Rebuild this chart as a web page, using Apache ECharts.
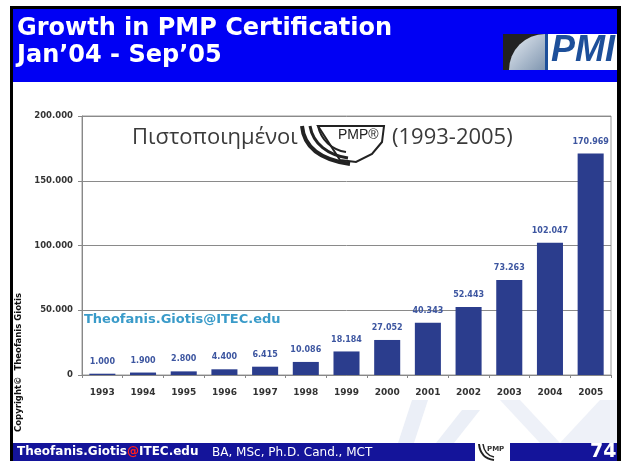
<!DOCTYPE html>
<html>
<head>
<meta charset="utf-8">
<script src="https://cdn.jsdelivr.net/npm/echarts@6/dist/echarts.min.js"></script>
<style>
html,body{margin:0;padding:0;background:#fff;}
#main{width:621px;height:461px;}
</style>
</head>
<body>
<div id="main"></div>
<script>
// data
const years = ['1993','1994','1995','1996','1997','1998','1999','2000','2001','2002','2003','2004','2005'];
const holders = [1000,1900,2800,4400,6415,10086,18184,27052,40343,52443,73263,102047,170969];
const yTicks = [0,50000,100000,150000,200000];

const blue = '#0000f4';
const navy = '#14149a';
const barColor = '#2b3d8d';

function dots(v){
  return String(v).replace(/\B(?=(\d{3})+(?!\d))/g,'.');
}

const chart = echarts.init(document.getElementById('main'));
chart.setOption({
  backgroundColor:'#fff',
  animation:false,
  grid:{left:82,right:10,top:116,bottom:86,show:true,borderColor:'#9a9a9a',borderWidth:1},
  xAxis:{
    type:'category',
    data:years,
    axisLine:{lineStyle:{color:'#888'}},
    axisTick:{show:true,length:3,lineStyle:{color:'#888'}},
    axisLabel:{color:'#333',fontWeight:'bold',fontSize:9,margin:13,fontFamily:'DejaVu Sans'}
  },
  yAxis:{
    type:'value',
    min:yTicks[0],
    max:yTicks[yTicks.length-1],
    interval:50000,
    axisLine:{show:true,lineStyle:{color:'#888'}},
    axisTick:{show:true,length:4,lineStyle:{color:'#888'}},
    splitLine:{lineStyle:{color:'#8a8a8a'}},
    axisLabel:{color:'#333',fontWeight:'bold',fontSize:8.5,margin:9,fontFamily:'DejaVu Sans',formatter:dots}
  },
  series:[{
    type:'bar',
    data:holders,
    barWidth:'64%',
    itemStyle:{color:barColor},
    label:{show:true,position:'top',distance:8,color:'#3d56a0',fontWeight:'bold',fontSize:8,fontFamily:'DejaVu Sans',formatter:p=>dots(p.value)}
  }],
  graphic:[
    // frame
    {type:'rect',shape:{x:10,y:6,width:611,height:3},style:{fill:'#000'},silent:true},
    {type:'rect',shape:{x:10,y:6,width:3,height:455},style:{fill:'#000'},silent:true},
    {type:'rect',shape:{x:617,y:6,width:4,height:455},style:{fill:'#000'},silent:true},
    // header
    {type:'rect',shape:{x:13,y:9,width:604,height:73},style:{fill:blue}},
    {type:'text',x:17,y:17,style:{text:'Growth in PMP Certification',fill:'#fff',font:'bold 24px "DejaVu Sans"',shadowColor:'rgba(0,0,0,0.55)',shadowOffsetX:1,shadowOffsetY:1,shadowBlur:2}},
    {type:'text',x:17,y:44,style:{text:'Jan\u201904 - Sep\u201905',fill:'#fff',font:'bold 24px "DejaVu Sans"',shadowColor:'rgba(0,0,0,0.55)',shadowOffsetX:1,shadowOffsetY:1,shadowBlur:2}},
    // PMI logo
    {type:'rect',shape:{x:503,y:34,width:114,height:36},style:{fill:'#fff'}},
    {type:'rect',shape:{x:503,y:34,width:42,height:36},style:{fill:'#222'}},
    {type:'sector',shape:{cx:545,cy:70,r:36,r0:0,startAngle:Math.PI,endAngle:Math.PI*1.5},style:{fill:new echarts.graphic.LinearGradient(0,0,1,1,[{offset:0,color:'#e8eef4'},{offset:1,color:'#8096b0'}])}},
    {type:'rect',shape:{x:545,y:34,width:3,height:36},style:{fill:'#1d4f9a'}},
    {type:'text',x:551,y:33,style:{text:'PMI',fill:'#1d4f9a',font:'italic bold 36px "Liberation Sans"'}},
    // chart caption
    {type:'text',x:132,y:127,style:{text:'\u03a0\u03b9\u03c3\u03c4\u03bf\u03c0\u03bf\u03b9\u03b7\u03bc\u03ad\u03bd\u03bf\u03b9',fill:'#3a3a3a',font:'22px "Open Sans"'}},
    {type:'polygon',shape:{points:[[318,126],[384,126],[382,142],[372,154],[356,162],[340,160]]},style:{fill:'#fff',stroke:'#222',lineWidth:2}},
    {type:'bezierCurve',shape:{x1:302,y1:126,cpx1:304,cpy1:148,cpx2:322,cpy2:160,x2:350,y2:164},style:{fill:'none',stroke:'#222',lineWidth:4}},
    {type:'bezierCurve',shape:{x1:310,y1:126,cpx1:313,cpy1:144,cpx2:328,cpy2:155,x2:348,y2:158},style:{fill:'none',stroke:'#222',lineWidth:3}},
    {type:'bezierCurve',shape:{x1:318,y1:126,cpx1:321,cpy1:140,cpx2:332,cpy2:150,x2:346,y2:152},style:{fill:'none',stroke:'#222',lineWidth:2}},
    {type:'text',x:338,y:128,style:{text:'PMP\u00ae',fill:'#222',font:'14px "Liberation Sans Narrow", "Liberation Sans"'}},
    {type:'text',x:392,y:127,style:{text:'(1993-2005)',fill:'#3a3a3a',font:'22px "Open Sans"'}},
    {type:'text',x:84,y:313,style:{text:'Theofanis.Giotis@ITEC.edu',fill:'#3a9bc9',font:'bold 13px "DejaVu Sans"'}},
    // copyright vertical
    {type:'text',x:14,y:432,rotation:Math.PI/2,style:{text:'Copyright\u00a9  Theofanis Giotis',fill:'#111',font:'bold 8.5px "DejaVu Sans"'}},
    // watermark
    {type:'polygon',shape:{points:[[398,443],[412,400],[428,400],[414,443]]},style:{fill:'#ebeff7'}},
    {type:'polygon',shape:{points:[[436,443],[462,410],[480,410],[454,443]]},style:{fill:'#ebeff7'}},
    {type:'polygon',shape:{points:[[500,400],[520,400],[560,443],[540,443]]},style:{fill:'#eef1f8'}},
    {type:'polygon',shape:{points:[[560,443],[600,400],[617,400],[617,443]]},style:{fill:'#eef1f8'}},
    // footer
    {type:'rect',shape:{x:13,y:443,width:604,height:18},style:{fill:navy}},
    {type:'text',x:17,y:446,style:{rich:{a:{fill:'#fff',font:'bold 12px "DejaVu Sans"'},b:{fill:'#ff2020',font:'bold 12px "DejaVu Sans"'}},text:'{a|Theofanis.Giotis}{b|@}{a|ITEC.edu}'}},
    {type:'text',x:212,y:447,style:{text:'BA, MSc, Ph.D. Cand., MCT',fill:'#fff',font:'12px "DejaVu Sans"'}},
    {type:'rect',shape:{x:475,y:443,width:35,height:18},style:{fill:'#fff'}},
    {type:'bezierCurve',shape:{x1:479,y1:444,cpx1:480,cpy1:454,cpx2:486,cpy2:459,x2:494,y2:460},style:{fill:'none',stroke:'#222',lineWidth:2}},
    {type:'bezierCurve',shape:{x1:483,y1:444,cpx1:484,cpy1:452,cpx2:489,cpy2:456,x2:494,y2:457},style:{fill:'none',stroke:'#222',lineWidth:1.5}},
    {type:'text',x:487,y:446,style:{text:'PMP',fill:'#333',font:'bold 7px "DejaVu Sans"'}},
    {type:'text',x:590,y:443,style:{text:'74',fill:'#fff',font:'bold 19px "DejaVu Sans"'}}
  ]
});
</script>
</body>
</html>
